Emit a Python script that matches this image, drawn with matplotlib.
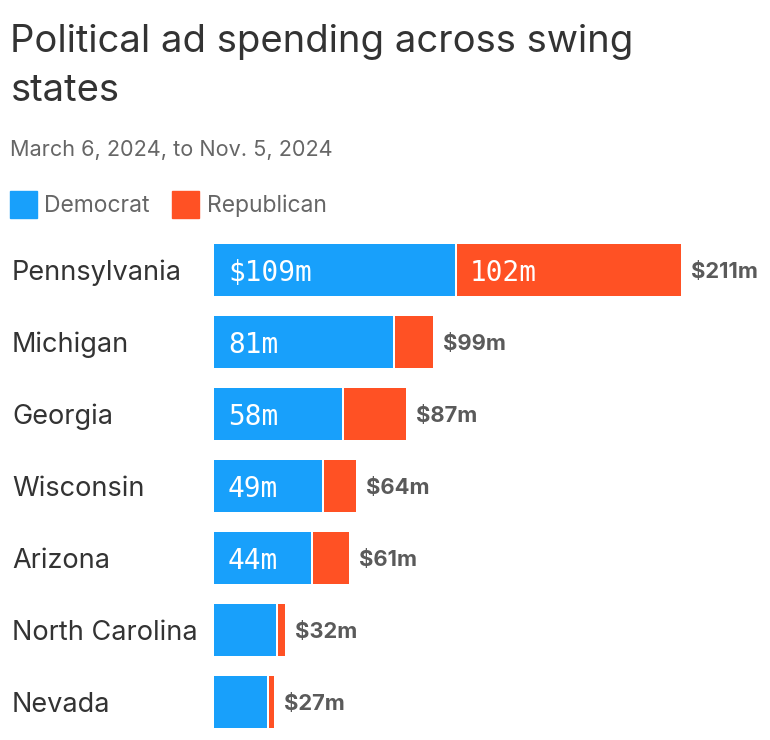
import matplotlib
matplotlib.use("Agg")
import matplotlib.pyplot as plt

# data (millions of dollars)
states = ["Pennsylvania", "Michigan", "Georgia", "Wisconsin", "Arizona", "North Carolina", "Nevada"]
democrat = [109, 81, 58, 49, 44, 28, 24]
republican = [102, 18, 29, 15, 17, 4, 3]
totals = [211, 99, 87, 64, 61, 32, 27]
dem_labels = ["$109m", "81m", "58m", "49m", "44m", "", ""]
rep_labels = ["102m", "", "", "", "", "", ""]

blue = "#18a0fb"
red = "#ff5124"
dark = "#333333"
grey = "#666666"

plt.rcParams['font.family'] = ['Inter', 'DejaVu Sans']

W, H = 770, 740
fig = plt.figure(figsize=(W / 100, H / 100), dpi=100)

def fx(px):
    return px / W

def fy(py):
    return 1 - py / H

# axes placed in pixel coords
left, right, top, bottom = 214, 770, 234, 738
ax = fig.add_axes([fx(left), fy(bottom), fx(right - left), (bottom - top) / H])
pxPerUnit = 241 / 109.0
ax.set_xlim(0, (right - left) / pxPerUnit)
ax.set_ylim(len(states) - 0.5, -0.5)
ax.axis("off")

ypos = list(range(len(states)))
gap = 0.8
ax.barh(ypos, democrat, height=0.72, color=blue, linewidth=0)
ax.barh(ypos, [r - gap for r in republican], left=[d + gap for d in democrat], height=0.72, color=red, linewidth=0)

lx = (12 - left) / (right - left)
for i, s in enumerate(states):
    ax.text(lx, i, s, transform=ax.get_yaxis_transform(), ha="left", va="center_baseline",
            fontsize=19.5, color=dark)
    if dem_labels[i]:
        ax.text(14 / pxPerUnit, i, dem_labels[i], ha="left", va="center_baseline", color="white",
                fontsize=20, family="DejaVu Sans Mono")
    if rep_labels[i]:
        ax.text(democrat[i] + 15 / pxPerUnit, i, rep_labels[i], ha="left", va="center_baseline",
                color="white", fontsize=20, family="DejaVu Sans Mono")
    ax.text(totals[i] + 10 / pxPerUnit, i, "$%dm" % totals[i], ha="left", va="center_baseline",
            color="#5a5a5a", fontsize=15.8, fontweight="bold")

# title, subtitle
fig.text(fx(10), fy(52), "Political ad spending across swing", fontsize=27.5, color=dark, va="baseline")
fig.text(fx(10), fy(101), "states", fontsize=27.5, color=dark, va="baseline")
fig.text(fx(10), fy(156), "March 6, 2024, to Nov. 5, 2024", fontsize=15.6, color=grey, va="baseline")

# legend
for sx, tx, col, lab in [(10, 44, blue, "Democrat"), (172, 207, red, "Republican")]:
    fig.patches.append(plt.Rectangle((fx(sx), fy(218)), 27 / W, 27 / H, color=col,
                                     transform=fig.transFigure, figure=fig))
    fig.text(fx(tx), fy(212), lab, fontsize=16.5, color=grey, va="baseline")

fig.savefig("out.png", dpi=100)
